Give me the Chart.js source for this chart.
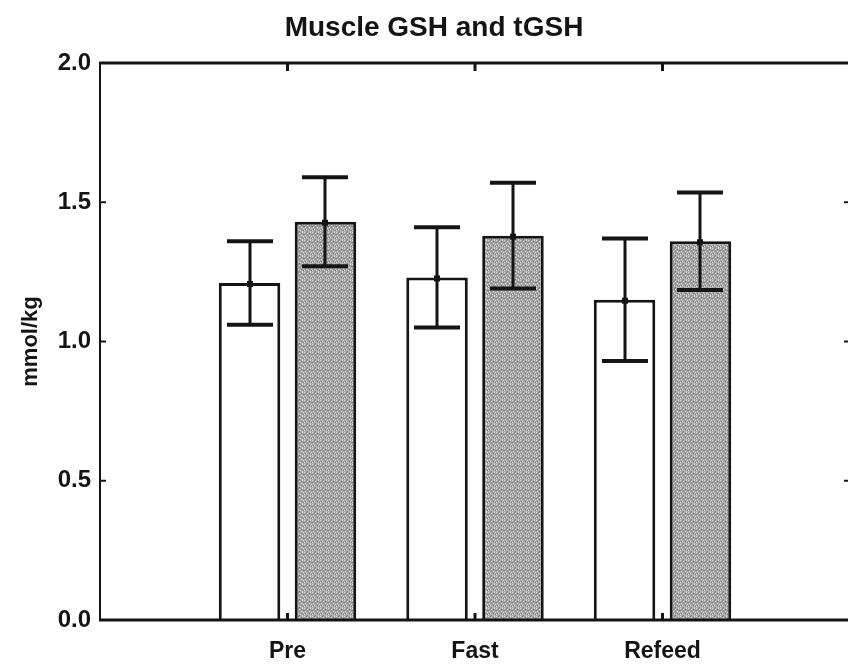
<!DOCTYPE html>
<html>
<head>
<meta charset="utf-8">
<script src="https://cdn.jsdelivr.net/npm/chart.js@4.4.1/dist/chart.umd.min.js"></script>
<style>
  html, body { margin: 0; padding: 0; background: #fff; overflow: hidden; }
  #wrap { width: 848px; height: 666px; overflow: hidden; position: relative; }
  canvas { display: block; }
</style>
</head>
<body>
<div id="wrap"><canvas id="c" width="852" height="666" style="width:852px;height:666px"></canvas></div>
<script>
// Group labels and measured values (mmol/kg), mean ± error
const categories = ['Pre', 'Fast', 'Refeed'];
const gshMean  = [1.21, 1.23, 1.15];
const gshErr   = [0.15, 0.18, 0.22];
const tgshMean = [1.43, 1.38, 1.36];
const tgshErr  = [0.16, 0.19, 0.175];
const yTicks   = [0, 0.5, 1.0, 1.5, 2.0];
const titleText = 'Muscle GSH and tGSH';
const yTitle = 'mmol/kg';

const FONT = '"Liberation Sans", Arial, sans-serif';
const INK = '#141414';

// Speckled grey fill for the tGSH bars (fixed 8x8 dot layout)
function stipple() {
  const t = document.createElement('canvas');
  t.width = 8; t.height = 8;
  const g = t.getContext('2d');
  g.fillStyle = '#a4a4a4'; g.fillRect(0, 0, 8, 8);
  const light = [[0,0],[3,1],[6,0],[1,3],[5,3],[2,5],[7,4],[4,6],[0,6],[6,7]];
  const dark  = [[2,0],[5,1],[0,2],[3,3],[7,2],[1,5],[5,5],[3,7],[7,6]];
  g.fillStyle = '#e2e2e2'; light.forEach(([x, y]) => g.fillRect(x, y, 1, 1));
  g.fillStyle = '#7a7a7a'; dark.forEach(([x, y]) => g.fillRect(x, y, 1, 1));
  return g.createPattern(t, 'repeat');
}

const toPoints = arr => arr.map((v, i) => ({ x: i + 1, y: v }));

// Title drawn centred over the plot
const titlePlugin = {
  id: 'plotTitle',
  afterDraw(chart) {
    const ctx = chart.ctx;
    ctx.save();
    ctx.fillStyle = INK;
    ctx.font = 'bold 28px ' + FONT;
    ctx.textAlign = 'center';
    ctx.textBaseline = 'alphabetic';
    ctx.fillText(titleText, 434, 36);
    ctx.restore();
  }
};

// Box frame with inward tick marks, then error bars on top of the bars
const framePlugin = {
  id: 'frameAndErrors',
  afterDatasetsDraw(chart) {
    const { ctx, chartArea: a, scales: { x, y } } = chart;
    const line = (x1, y1, x2, y2) => { ctx.beginPath(); ctx.moveTo(x1, y1); ctx.lineTo(x2, y2); ctx.stroke(); };
    ctx.save();
    ctx.strokeStyle = INK;
    ctx.lineCap = 'butt';

    ctx.lineWidth = 3;
    line(a.left - 1, a.top, a.right, a.top);
    line(a.left - 1, a.bottom, a.right, a.bottom);
    ctx.lineWidth = 2;
    line(a.left, a.top, a.left, a.bottom);
    line(a.right, a.top, a.right, a.bottom);

    yTicks.forEach(v => {
      const py = y.getPixelForValue(v);
      line(a.left, py, a.left + 6, py);
      line(a.right, py, a.right - 6, py);
    });
    ctx.lineWidth = 3;
    categories.forEach((c, i) => {
      const px = x.getPixelForValue(i + 1);
      line(px, a.top, px, a.top + 8);
      line(px, a.bottom, px, a.bottom - 7);
    });

    const errs = [gshErr, tgshErr];
    chart.data.datasets.forEach((ds, di) => {
      const meta = chart.getDatasetMeta(di);
      meta.data.forEach((bar, i) => {
        const m = ds.data[i].y;
        const e = errs[di][i];
        const cx = Math.round(bar.x);
        const top = y.getPixelForValue(m + e);
        const bot = y.getPixelForValue(m - e);
        ctx.lineWidth = 3;
        line(cx, top, cx, bot);
        ctx.lineWidth = 4;
        line(cx - 23, top, cx + 23, top);
        line(cx - 23, bot, cx + 23, bot);
        ctx.fillStyle = INK;
        const my = y.getPixelForValue(m);
        ctx.fillRect(cx - 3, my - 2, 6, 6);
      });
    });
    ctx.restore();
  }
};

new Chart(document.getElementById('c'), {
  type: 'bar',
  data: {
    datasets: [
      {
        label: 'GSH',
        data: toPoints(gshMean),
        backgroundColor: '#ffffff',
        borderColor: INK,
        borderWidth: 3,
        borderSkipped: 'start'
      },
      {
        label: 'tGSH',
        data: toPoints(tgshMean),
        backgroundColor: stipple(),
        borderColor: INK,
        borderWidth: 3,
        borderSkipped: 'start'
      }
    ]
  },
  options: {
    responsive: false,
    animation: false,
    devicePixelRatio: 1,
    layout: { autoPadding: false, padding: { top: 63, right: 2, left: 0, bottom: 0 } },
    plugins: {
      legend: { display: false },
      title: { display: false },
      tooltip: { enabled: false }
    },
    datasets: { bar: { categoryPercentage: 0.81, barPercentage: 0.81 } },
    scales: {
      x: {
        type: 'linear',
        offset: false,
        min: 0,
        max: categories.length + 1,
        grid: { display: false, drawTicks: false, offset: false },
        border: { display: false },
        ticks: {
          stepSize: 1,
          autoSkip: false,
          maxRotation: 0,
          callback: v => categories[v - 1] || '',
          font: { family: FONT, size: 23, weight: 'bold' },
          color: INK,
          padding: 18
        },
        afterFit: s => { s.height = 46; s.paddingLeft = 0; s.paddingRight = 0; }
      },
      y: {
        min: 0,
        max: 2,
        grid: { display: false, drawTicks: false },
        border: { display: false },
        ticks: {
          stepSize: 0.5,
          callback: v => Number(v).toFixed(1),
          font: { family: FONT, size: 24, weight: 'bold' },
          color: INK,
          padding: 9
        },
        title: {
          display: true,
          text: yTitle,
          font: { family: FONT, size: 22, weight: 'bold' },
          color: INK,
          padding: { top: 18, bottom: 0 }
        },
        afterFit: s => { s.width = 100; }
      }
    }
  },
  plugins: [titlePlugin, framePlugin]
});
</script>
</body>
</html>
